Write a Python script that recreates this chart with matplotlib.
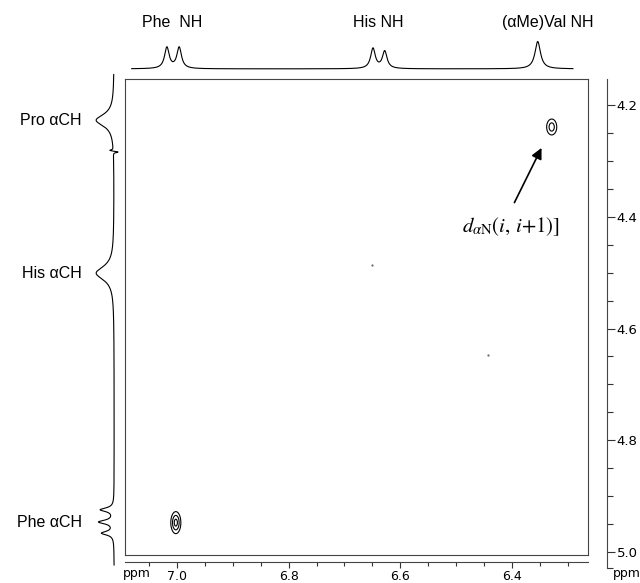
import numpy as np
import matplotlib
matplotlib.use("Agg")
import matplotlib.pyplot as plt
from matplotlib.ticker import FixedLocator, NullFormatter

plt.rcParams['font.family'] = ['Liberation Sans', 'DejaVu Sans']
plt.rcParams['mathtext.fontset'] = 'stix'

# ---------------- data (ppm) ----------------
XLIM = (7.093, 6.264)          # F2 (NH) axis of 2D map
YLIM = (5.006, 4.153)          # F1 (alpha CH) axis of 2D map

# top 1D trace (NH region)
top_ppm = [7.018, 6.996, 6.649, 6.628, 6.354]
top_height = [0.44, 0.44, 0.42, 0.36, 0.57]
top_hwhm = [0.005, 0.005, 0.005, 0.005, 0.006]
top_range = (7.081, 6.291)
top_base = 0.19

# left 1D trace (alpha CH region)
left_ppm = [4.227, 4.501, 4.925, 4.947, 4.967, 4.281, 4.284]
left_height = [0.40, 0.40, 0.30, 0.33, 0.27, 0.09, -0.12]
left_hwhm = [0.013, 0.015, 0.004, 0.004, 0.004, 0.0012, 0.0012]
left_range = (4.145, 5.024)
left_base = 0.24

# 2D cross peaks
cross_x = [6.329, 7.002]
cross_y = [4.239, 4.948]
cross_sx = [0.0057, 0.0050]
cross_sy = [0.0090, 0.0110]
cross_amp = [0.70, 1.00]
cross_levels = [0.2, 0.5, 0.85]
noise_x = [6.651, 6.443]
noise_y = [4.486, 4.647]

x_major = [7.0, 6.8, 6.6, 6.4]
x_minor = [7.05, 6.95, 6.9, 6.85, 6.75, 6.7, 6.65, 6.55, 6.5, 6.45, 6.35, 6.3]
y_major = [4.2, 4.4, 4.6, 4.8, 5.0]
y_minor = [4.15, 4.25, 4.3, 4.35, 4.45, 4.5, 4.55, 4.65, 4.7, 4.75, 4.85, 4.9, 4.95, 5.033]

top_labels = ["Phe  NH", "His NH", "(\u03b1Me)Val NH"]
top_label_x = [7.008, 6.639, 6.336]
left_labels = ["Pro \u03b1CH", "His \u03b1CH", "Phe \u03b1CH"]
left_label_y = [4.227, 4.501, 4.947]

# ---------------- figure ----------------
W, H = 640, 583
fig = plt.figure(figsize=(W / 100, H / 100), dpi=100)


def box(x0, y0, x1, y1):
    return [x0 / W, 1 - y1 / H, (x1 - x0) / W, (y1 - y0) / H]


def lor(x, c, h, g):
    return h * g ** 2 / ((x - c) ** 2 + g ** 2)


# main 2D map
ax = fig.add_axes(box(125, 79, 588, 555))
ax.set_xlim(*XLIM)
ax.set_ylim(*YLIM)
ax.set_xticks([])
ax.set_yticks([])
for s in ax.spines.values():
    s.set_color('#444444')
    s.set_linewidth(0.8)

gx = np.linspace(XLIM[0], XLIM[1], 700)
gy = np.linspace(YLIM[0], YLIM[1], 700)
GX, GY = np.meshgrid(gx, gy)
Z = np.zeros_like(GX)
for cx, cy, sx, sy, a in zip(cross_x, cross_y, cross_sx, cross_sy, cross_amp):
    Z += a * np.exp(-((GX - cx) ** 2 / (2 * sx ** 2) + (GY - cy) ** 2 / (2 * sy ** 2)))
ax.contour(GX, GY, Z, levels=cross_levels, colors='black', linewidths=0.8)
ax.plot(noise_x, noise_y, linestyle='none', marker='.', markersize=1.2, color='#666666')

ax.annotate('', xy=(6.345, 4.272), xytext=(6.398, 4.379),
            arrowprops=dict(arrowstyle='-|>', mutation_scale=16, lw=1.2, color='black'))
ax.text(6.489, 4.417, r'$d_{\alpha\mathrm{N}}(i,\, i{+}1)]$', fontsize=15,
        ha='left', va='center', color='black')

# top 1D trace
axt = fig.add_axes(box(125, 30, 588, 78))
axt.set_xlim(*XLIM)
axt.set_ylim(0, 1)
axt.axis('off')
xt = np.linspace(top_range[0], top_range[1], 1500)
yt = np.full_like(xt, top_base)
for c, h, g in zip(top_ppm, top_height, top_hwhm):
    yt += lor(xt, c, h, g)
axt.plot(xt, yt, color='black', lw=0.8)

# left 1D trace (peaks point left)
axl = fig.add_axes(box(80, 70, 125, 570))
axl.set_ylim(5.033, 4.137)
axl.set_xlim(1, 0)
axl.axis('off')
yl = np.linspace(left_range[0], left_range[1], 2500)
xl = np.full_like(yl, left_base)
for c, h, g in zip(left_ppm, left_height, left_hwhm):
    xl += lor(yl, c, h, g)
axl.plot(xl, yl, color='black', lw=0.8)

# bottom ppm axis
axb = fig.add_axes(box(125, 555, 588, 562))
axb.set_xlim(*XLIM)
axb.set_ylim(0, 1)
axb.patch.set_visible(False)
for k in ['top', 'left', 'right']:
    axb.spines[k].set_visible(False)
axb.spines['bottom'].set_color('#444444')
axb.spines['bottom'].set_linewidth(0.8)
axb.set_yticks([])
axb.xaxis.set_major_locator(FixedLocator(x_major))
axb.xaxis.set_minor_locator(FixedLocator(x_minor))
axb.xaxis.set_minor_formatter(NullFormatter())
axb.set_xticklabels([f"{v:.1f}" for v in x_major])
axb.tick_params(axis='x', which='major', direction='out', length=4.5, width=0.8,
                labelsize=9, pad=1, color='#333333')
axb.tick_params(axis='x', which='minor', direction='out', length=3, width=0.8, color='#333333')
for lab in axb.get_xticklabels():
    lab.set_family('DejaVu Sans')
fig.text(137 / W, 1 - 574 / H, 'ppm', fontsize=9, family='DejaVu Sans', ha='center', va='center')

# right ppm axis
axr = fig.add_axes(box(600, 79, 607, 568))
axr.set_ylim(5.029, 4.153)
axr.set_xlim(0, 1)
axr.patch.set_visible(False)
for k in ['top', 'left', 'bottom']:
    axr.spines[k].set_visible(False)
axr.spines['right'].set_color('#444444')
axr.spines['right'].set_linewidth(0.8)
axr.set_xticks([])
axr.yaxis.tick_right()
axr.yaxis.set_major_locator(FixedLocator(y_major))
axr.yaxis.set_minor_locator(FixedLocator(y_minor[:-1] + [5.029]))
axr.yaxis.set_minor_formatter(NullFormatter())
axr.set_yticklabels([f"{v:.1f}" for v in y_major])
axr.tick_params(axis='y', which='major', direction='out', length=6, width=0.8,
                labelsize=9.5, pad=1, color='#333333')
axr.tick_params(axis='y', which='minor', direction='out', length=4, width=0.8, color='#333333')
for lab in axr.get_yticklabels():
    lab.set_family('DejaVu Sans')
fig.text(627 / W, 1 - 573 / H, 'ppm', fontsize=9, family='DejaVu Sans', ha='center', va='center')

# peak labels
for lab, xv in zip(top_labels, top_label_x):
    axt.text(xv, 1.0, lab, transform=axt.get_xaxis_transform(), ha='center', va='bottom',
             fontsize=11.5, clip_on=False)
for lab, yv in zip(left_labels, left_label_y):
    axl.text(82 / W, yv, lab, transform=matplotlib.transforms.blended_transform_factory(fig.transFigure, axl.transData),
             ha='right', va='center', fontsize=11.5)

fig.savefig('out.png', dpi=100, facecolor='white')
